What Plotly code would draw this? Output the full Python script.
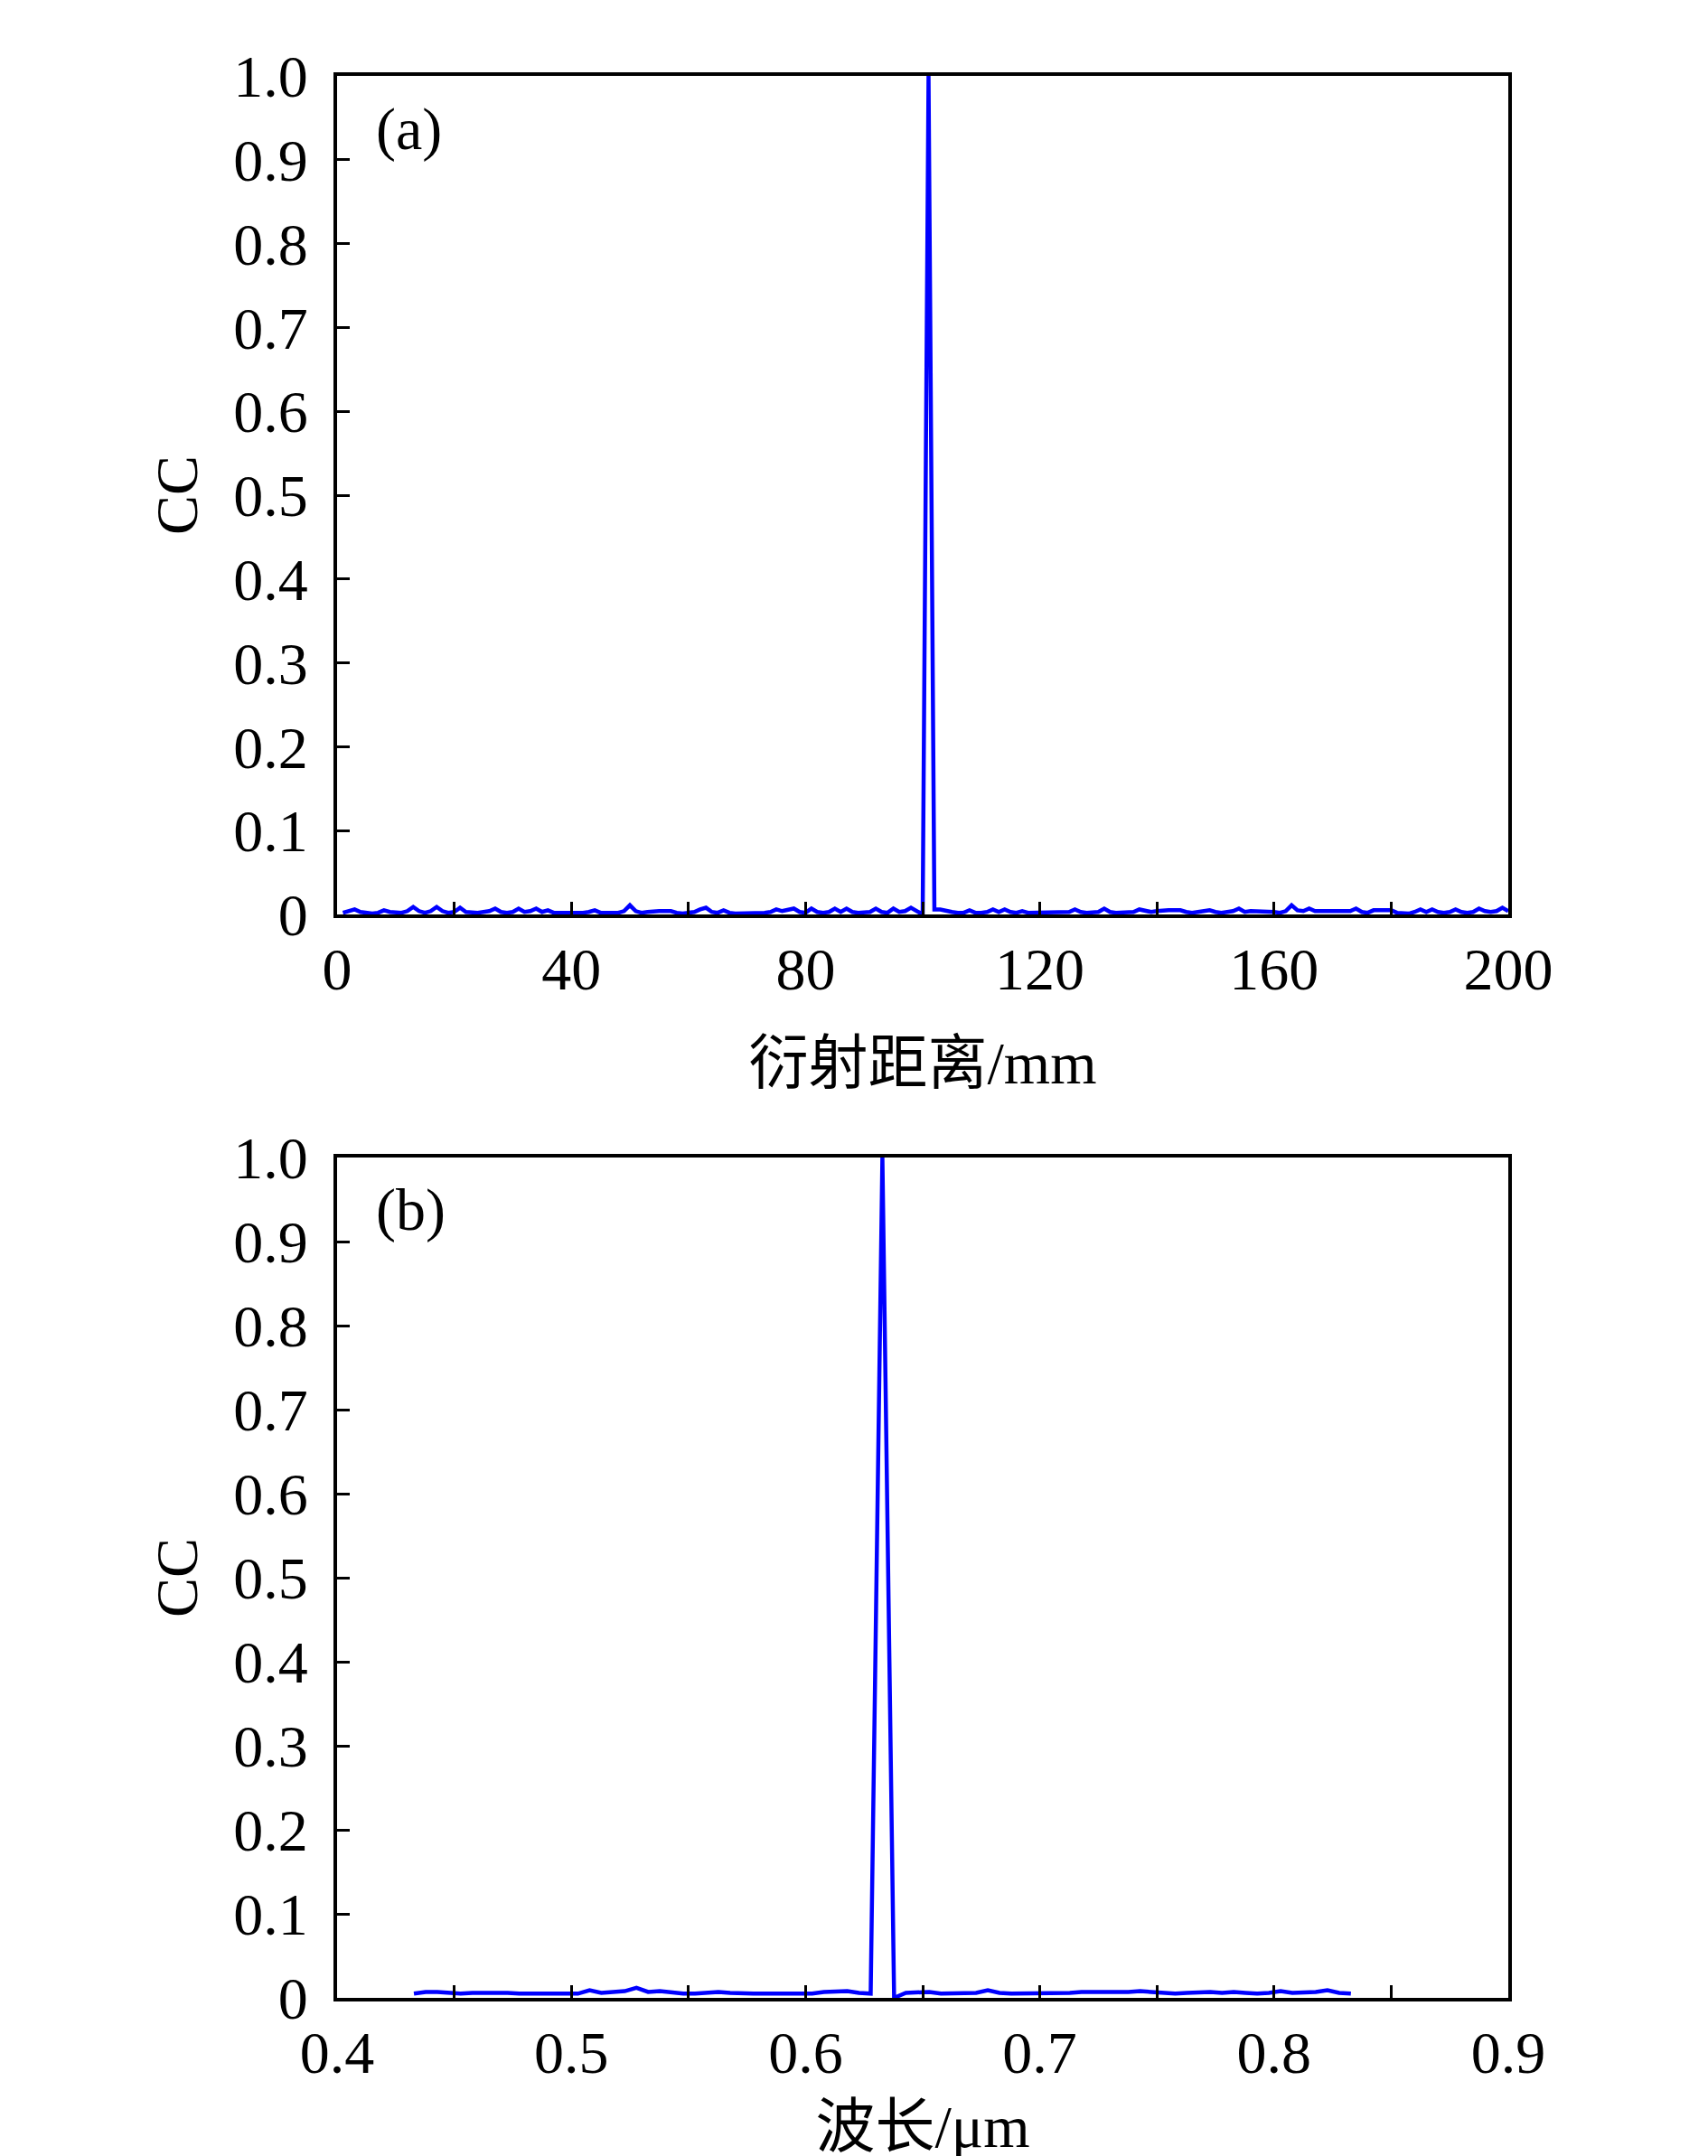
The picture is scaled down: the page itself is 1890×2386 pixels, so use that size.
import plotly.graph_objects as go

# ---------------- data ----------------
# (a) CC vs diffraction distance (mm), x = 1..200
dist_mm = list(range(1, 201))
cc_dist = [
    0.002, 0.004, 0.006, 0.003, 0.002, 0.001, 0.002, 0.005, 0.003, 0.002,   # 1-10
    0.002, 0.004, 0.009, 0.004, 0.002, 0.004, 0.009, 0.004, 0.002, 0.003,   # 11-20
    0.008, 0.003, 0.002, 0.002, 0.003, 0.004, 0.007, 0.003, 0.002, 0.003,   # 21-30
    0.007, 0.003, 0.004, 0.007, 0.003, 0.005, 0.002, 0.002, 0.001, 0.002,   # 31-40
    0.002, 0.002, 0.003, 0.005, 0.002, 0.002, 0.001, 0.002, 0.004, 0.011,   # 41-50
    0.004, 0.002, 0.003, 0.004, 0.004, 0.004, 0.004, 0.002, 0.001, 0.002,   # 51-60
    0.003, 0.006, 0.008, 0.003, 0.002, 0.005, 0.002, 0.001, 0.001, 0.001,   # 61-70
    0.001, 0.002, 0.002, 0.003, 0.006, 0.004, 0.005, 0.007, 0.003, 0.002,   # 71-80
    0.007, 0.003, 0.002, 0.003, 0.007, 0.003, 0.007, 0.003, 0.002, 0.002,   # 81-90
    0.003, 0.007, 0.003, 0.002, 0.007, 0.003, 0.004, 0.008, 0.004, 0.000,   # 91-100
    1.000, 0.006, 0.006, 0.004, 0.003, 0.002, 0.002, 0.005, 0.002, 0.002,   # 101-110
    0.003, 0.006, 0.003, 0.006, 0.003, 0.002, 0.004, 0.002, 0.002, 0.002,   # 111-120
    0.002, 0.002, 0.003, 0.003, 0.003, 0.006, 0.003, 0.002, 0.002, 0.003,   # 121-130
    0.007, 0.003, 0.002, 0.002, 0.002, 0.003, 0.006, 0.005, 0.003, 0.004,   # 131-140
    0.005, 0.005, 0.005, 0.005, 0.003, 0.002, 0.003, 0.004, 0.005, 0.003,   # 141-150
    0.002, 0.003, 0.004, 0.007, 0.003, 0.004, 0.004, 0.004, 0.004, 0.003,   # 151-160
    0.002, 0.004, 0.011, 0.005, 0.004, 0.007, 0.004, 0.004, 0.004, 0.004,   # 161-170
    0.003, 0.003, 0.004, 0.007, 0.003, 0.002, 0.005, 0.005, 0.005, 0.005,   # 171-180
    0.002, 0.002, 0.001, 0.003, 0.006, 0.003, 0.006, 0.003, 0.002, 0.003,   # 181-190
    0.006, 0.003, 0.002, 0.003, 0.007, 0.004, 0.003, 0.004, 0.008, 0.004,   # 191-200
]

# (b) CC vs wavelength (um), x = 0.4328 + 0.005*k, k = 0..80
wl_um = [round(0.4328 + 0.005 * k, 4) for k in range(81)]
cc_wl = [
    0.005, 0.007, 0.007, 0.006, 0.005, 0.006, 0.006, 0.007, 0.006, 0.005,   # k 0-9
    0.005, 0.005, 0.005, 0.005, 0.005, 0.009, 0.006, 0.007, 0.008, 0.012,   # k 10-19
    0.007, 0.008, 0.006, 0.005, 0.005, 0.006, 0.007, 0.006, 0.005, 0.005,   # k 20-29
    0.005, 0.005, 0.005, 0.005, 0.005, 0.007, 0.008, 0.008, 0.006, 0.005,   # k 30-39
    1.000, 0.000, 0.006, 0.006, 0.007, 0.005, 0.005, 0.005, 0.006, 0.009,   # k 40-49
    0.006, 0.005, 0.005, 0.005, 0.005, 0.005, 0.006, 0.007, 0.007, 0.006,   # k 50-59
    0.006, 0.007, 0.008, 0.007, 0.006, 0.005, 0.006, 0.007, 0.007, 0.006,   # k 60-69
    0.007, 0.006, 0.005, 0.006, 0.008, 0.006, 0.006, 0.007, 0.009, 0.006,   # k 70-79
    0.005,                                                                  # k 80
]

y_tickvals = [0, 0.1, 0.2, 0.3, 0.4, 0.5, 0.6, 0.7, 0.8, 0.9, 1.0]
y_ticktext = ["0", "0.1", "0.2", "0.3", "0.4", "0.5", "0.6", "0.7", "0.8", "0.9", "1.0"]
xa_tickvals = [0, 20, 40, 60, 80, 100, 120, 140, 160, 180, 200]
xa_ticktext = ["0", "", "40", "", "80", "", "120", "", "160", "", "200"]
xb_tickvals = [0.4, 0.45, 0.5, 0.55, 0.6, 0.65, 0.7, 0.75, 0.8, 0.85, 0.9]
xb_ticktext = ["0.4", "", "0.5", "", "0.6", "", "0.7", "", "0.8", "", "0.9"]

# ---------------- figure ----------------
W, H = 1890, 2386
FONT = "Liberation Serif, 'Noto Sans CJK SC', serif"
FS = 66

def px_x(p):
    return p / W

def px_y(p):
    return 1 - p / H

fig = go.Figure()
fig.add_trace(go.Scatter(x=dist_mm, y=cc_dist, mode="lines",
                         line=dict(color="#0000FF", width=4.5),
                         xaxis="x", yaxis="y", showlegend=False))
fig.add_trace(go.Scatter(x=wl_um, y=cc_wl, mode="lines",
                         line=dict(color="#0000FF", width=4.5),
                         xaxis="x2", yaxis="y2", showlegend=False))

common_axis = dict(showline=True, linecolor="black", linewidth=4, mirror=True,
                   ticks="inside", ticklen=14, tickwidth=3, tickcolor="black",
                   showgrid=False, zeroline=False, automargin=False,
                   tickfont=dict(family=FONT, size=FS, color="black"))

xdom = [px_x(365), px_x(1661)]
fig.update_layout(
    width=W, height=H,
    margin=dict(l=0, r=0, t=0, b=0),
    paper_bgcolor="white", plot_bgcolor="white",
    font=dict(family=FONT, size=FS, color="black"),
    xaxis=dict(domain=xdom, range=[0, 200], anchor="y",
               tickmode="array", tickvals=xa_tickvals, ticktext=xa_ticktext,
               ticklabelstandoff=0,
               title=dict(text="衍射距离/mm", font=dict(family=FONT, size=FS),
                          standoff=46),
               **common_axis),
    yaxis=dict(domain=[px_y(1004), px_y(76)], range=[0, 1], anchor="x",
               tickmode="array", tickvals=y_tickvals, ticktext=y_ticktext,
               ticklabelstandoff=15,
               title=dict(text="CC", font=dict(family=FONT, size=FS), standoff=19),
               **common_axis),
    xaxis2=dict(domain=xdom, range=[0.4, 0.9], anchor="y2",
                tickmode="array", tickvals=xb_tickvals, ticktext=xb_ticktext,
                ticklabelstandoff=0,
                title=dict(text="波长/μm", font=dict(family=FONT, size=FS),
                           standoff=24),
                **common_axis),
    yaxis2=dict(domain=[px_y(2203), px_y(1273)], range=[0, 1], anchor="x2",
                tickmode="array", tickvals=y_tickvals, ticktext=y_ticktext,
                ticklabelstandoff=15,
                title=dict(text="CC", font=dict(family=FONT, size=FS), standoff=19),
                **common_axis),
    annotations=[
        dict(text="(a)", x=px_x(406), y=px_y(135), xref="paper", yref="paper",
             xanchor="left", yanchor="middle", showarrow=False,
             font=dict(family=FONT, size=FS, color="black")),
        dict(text="(b)", x=px_x(406), y=px_y(1331), xref="paper", yref="paper",
             xanchor="left", yanchor="middle", showarrow=False,
             font=dict(family=FONT, size=FS, color="black")),
    ],
)

fig.write_html("out.html")
